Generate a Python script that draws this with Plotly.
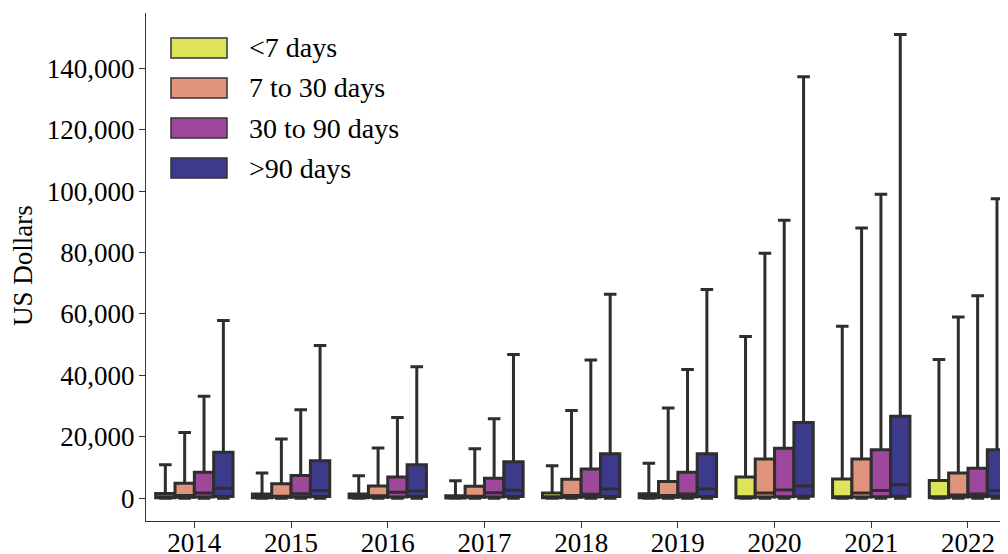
import plotly.graph_objects as go

years = ["2014", "2015", "2016", "2017", "2018", "2019", "2020", "2021", "2022"]
series_names = ["<7 days", "7 to 30 days", "30 to 90 days", ">90 days"]
colors = ["#dfe45a", "#e0947b", "#9e489c", "#3d3a8c"]

# per-series stats (US dollars)
lower = {
    "<7 days":       [0, 0, 0, 0, 0, 0, 0, 0, 0],
    "7 to 30 days":  [0, 0, 0, 0, 0, 0, 0, 0, 0],
    "30 to 90 days": [0, 0, 0, 0, 0, 0, 0, 0, 0],
    ">90 days":      [0, 0, 0, 0, 0, 0, 0, 0, 0],
}
q1 = {
    "<7 days":       [150, 150, 150, 100, 150, 150, 200, 150, 150],
    "7 to 30 days":  [300, 300, 300, 300, 300, 300, 400, 400, 400],
    "30 to 90 days": [400, 400, 400, 400, 400, 400, 500, 500, 500],
    ">90 days":      [600, 600, 600, 600, 600, 600, 700, 700, 700],
}
median = {
    "<7 days":       [500, 400, 400, 300, 500, 500, 400, 300, 300],
    "7 to 30 days":  [900, 700, 800, 700, 900, 900, 1700, 1700, 1100],
    "30 to 90 days": [1700, 1500, 2000, 1800, 1300, 1400, 2700, 2500, 1400],
    ">90 days":      [3300, 2500, 2400, 2600, 3000, 3000, 4000, 4400, 2500],
}
q3 = {
    "<7 days":       [1600, 1400, 1400, 800, 1700, 1500, 6900, 6300, 5800],
    "7 to 30 days":  [4900, 4700, 4000, 3900, 6200, 5500, 12800, 12800, 8200],
    "30 to 90 days": [8500, 7400, 6900, 6500, 9500, 8500, 16300, 15800, 9800],
    ">90 days":      [15000, 12200, 10900, 11900, 14500, 14500, 24700, 26700, 15800],
}
upper = {
    "<7 days":       [10900, 8200, 7300, 5700, 10600, 11400, 52700, 56000, 45200],
    "7 to 30 days":  [21400, 19300, 16400, 16100, 28600, 29400, 79800, 88000, 59000],
    "30 to 90 days": [33200, 28800, 26300, 25900, 45000, 41900, 90500, 99000, 65900],
    ">90 days":      [57900, 49700, 42800, 46800, 66400, 68000, 137200, 151000, 97500],
}

# page body has an 8px default margin; figure sized to fill the rest of the window
OFF = 8
W, H = 1000, 546
ML, MR, MT, MB = 138, 0, 5, 33
PW, PH = W - ML - MR, H - MT - MB


def px_x(p):  # screen pixel -> paper x
    return (p - OFF - ML) / PW


def px_y(p):  # screen pixel -> paper y
    return (H - MB - (p - OFF)) / PH


fig = go.Figure()
for name, col in zip(series_names, colors):
    fig.add_trace(go.Box(
        name=name,
        x=years,
        q1=q1[name], median=median[name], q3=q3[name],
        lowerfence=lower[name], upperfence=upper[name],
        fillcolor=col,
        line=dict(color="#2e2e2e", width=3),
        whiskerwidth=0.65,
        boxpoints=False,
        showlegend=False,
    ))

font_family = "Liberation Serif, Times New Roman, serif"

# legend with large swatches
shapes = []
annotations = []
for i, (name, col) in enumerate(zip(series_names, colors)):
    cy = 48 + 40 * i
    shapes.append(dict(
        type="rect", xref="paper", yref="paper",
        x0=px_x(171), x1=px_x(227), y0=px_y(cy + 10), y1=px_y(cy - 10),
        fillcolor=col, line=dict(color="#333", width=1.5), layer="above",
    ))
    annotations.append(dict(
        text=name, xref="paper", yref="paper",
        x=px_x(247), y=px_y(cy), xanchor="left", yanchor="middle",
        showarrow=False, font=dict(size=28, family=font_family, color="black"),
    ))

annotations.append(dict(
    text="US Dollars", xref="paper", yref="paper",
    x=px_x(23), y=px_y(266), xanchor="center", yanchor="middle",
    textangle=-90, showarrow=False,
    font=dict(size=27, family=font_family, color="black"),
))

fig.update_layout(
    width=W, height=H,
    margin=dict(l=ML, r=MR, t=MT, b=MB, autoexpand=False),
    paper_bgcolor="white", plot_bgcolor="white",
    boxmode="group", boxgap=0.2, boxgroupgap=0,
    font=dict(family=font_family, size=27, color="black"),
    showlegend=False,
    shapes=shapes,
    annotations=annotations,
)
fig.update_xaxes(
    type="category", range=[-0.5, 8.414],
    showline=True, linecolor="#333", linewidth=1.2,
    ticks="outside", ticklen=6, tickcolor="#333", tickwidth=1.2,
    showgrid=False, zeroline=False, automargin=False,
    ticklabelstandoff=-9,
    tickfont=dict(size=27, family=font_family),
)
fig.update_yaxes(
    range=[-7390, 157960],
    tickvals=[0, 20000, 40000, 60000, 80000, 100000, 120000, 140000],
    tickformat=",d",
    showline=True, linecolor="#333", linewidth=1.2,
    ticks="outside", ticklen=6, tickcolor="#333", tickwidth=1.2,
    showgrid=False, zeroline=False, automargin=False,
    ticklabelstandoff=-1,
    tickfont=dict(size=27, family=font_family),
)

fig.write_html("out.html")
